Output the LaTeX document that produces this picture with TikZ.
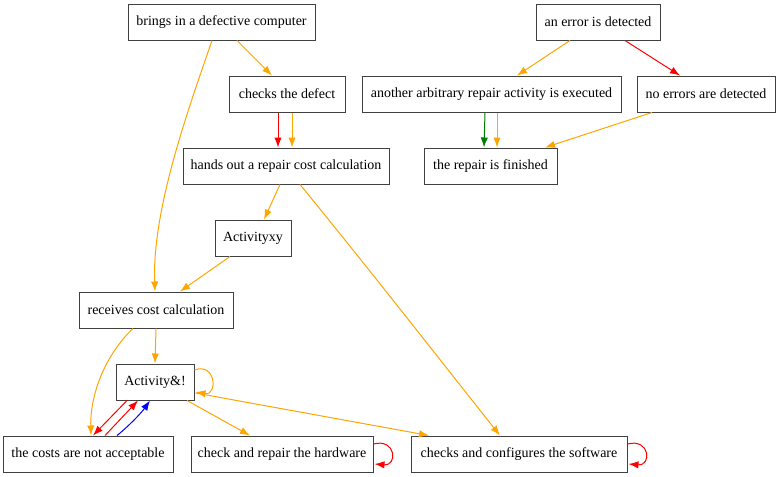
\documentclass[tikz,border=0pt]{standalone}
\usepackage{fontspec}
\setmainfont{Liberation Serif}
\usetikzlibrary{arrows.meta,calc}
\definecolor{gvorange}{HTML}{FFA500}
\definecolor{gvred}{HTML}{FF0000}
\definecolor{gvgreen}{HTML}{008000}
\definecolor{gvblue}{HTML}{0000FF}
\begin{document}
\begin{tikzpicture}[x=0.75pt,y=-0.75pt,
  box/.style={draw=black!75,line width=0.75pt,rectangle,minimum height=27pt,inner sep=0pt,font=\fontsize{10.5pt}{12pt}\selectfont},
  bw/.style={minimum width=#1*0.75pt},
  edge/.style={line width=0.75pt,-{Latex[length=7.5pt,width=5.5pt]}},
  eo/.style={edge,draw=gvorange,-{Latex[length=7.5pt,width=5.5pt,fill=gvorange]}},
  er/.style={edge,draw=gvred,-{Latex[length=7.5pt,width=5.5pt,fill=gvred]}},
  eg/.style={edge,draw=gvgreen,-{Latex[length=7.5pt,width=5.5pt,fill=gvgreen]}},
  eb/.style={edge,draw=gvblue,-{Latex[length=7.5pt,width=5.5pt,fill=gvblue]}}]
\useasboundingbox (0,0) rectangle (779,476);
\node[box,bw=187] (n1) at (221.5,22) {brings in a defective computer};
\node[box,bw=116] (n2) at (287,94) {checks the defect};
\node[box,bw=124] (n3) at (598,22) {an error is detected};
\node[box,bw=259] (n4) at (491.5,94) {another arbitrary repair activity is executed};
\node[box,bw=138] (n5) at (706,94) {no errors are detected};
\node[box,bw=206] (n6) at (286,166) {hands out a repair cost calculation};
\node[box,bw=133] (n7) at (490.5,166) {the repair is finished};
\node[box,bw=76] (n8) at (253,238) {Activityxy};
\node[box,bw=154] (n9) at (156,310) {receives cost calculation};
\node[box,bw=78] (n10) at (155,382) {Activity\&!};
\node[box,bw=170] (n11) at (88,454) {the costs are not acceptable};
\node[box,bw=182] (n12) at (282,454) {check and repair the hardware};
\node[box,bw=216] (n13) at (519,454) {checks and configures the software};
% edges
\draw[eo] ($(n1.south)+(15.5,0)$) -- ($(n2.north)+(-15,0)$);
\draw[eo] ($(n1.south)+(-9.5,0)$) .. controls (188,110) and (152,210) .. ($(n9.north)+(-1,0)$);
\draw[er] ($(n2.south)+(-9,0)$) -- ($(n6.north)+(-8,0)$);
\draw[eo] ($(n2.south)+(5,0)$) -- ($(n6.north)+(6,0)$);
\draw[eo] ($(n6.south)+(-6,0)$) -- ($(n8.north)+(11,0)$);
\draw[eo] ($(n6.south)+(14,0)$) .. controls (370,270) and (440,360) .. ($(n13.north)+(-19,0)$);
\draw[eo] ($(n8.south)+(-23,0)$) -- ($(n9.north)+(24,0)$);
\draw[eo] (n9.south) -- (n10.north);
\draw[eo] ($(n9.south)+(-23,0)$) .. controls (105,355) and (90,395) .. ($(n11.north)+(3,0)$);
\draw[eo] ($(n10.east)+(0,-12)$) .. controls (216,362) and (218,396) .. ($(n10.east)+(1,10)$);
\draw[eo] ($(n10.south)+(32,0)$) -- ($(n12.north)+(-32,0)$);
\draw[eo] ($(n10.east)+(1,11)$) -- ($(n13.north)+(-90,0)$);
\draw[er] ($(n10.south)+(-28,0)$) -- ($(n11.north)+(5,0)$);
\draw[er] ($(n11.north)+(17,0)$) -- ($(n10.south)+(-17,0)$);
\draw[eb] ($(n11.north)+(29,0)$) .. controls (130,425) and (142,412) .. ($(n10.south)+(-5,0)$);
\draw[er] ($(n12.east)+(0,-10)$) .. controls (396,438) and (398,466) .. ($(n12.east)+(1,10)$);
\draw[er] ($(n13.east)+(0,-10)$) .. controls (650,438) and (652,466) .. ($(n13.east)+(1,10)$);
\draw[eo] ($(n3.south)+(-28,0)$) -- ($(n4.north)+(25.5,0)$);
\draw[er] ($(n3.south)+(27,0)$) -- ($(n5.north)+(-26,0)$);
\draw[eg] ($(n4.south)+(-6.5,0)$) -- ($(n7.north)+(-6.5,0)$);
\draw[eo] ($(n4.south)+(5.5,0)$) -- ($(n7.north)+(6.5,0)$);
\draw[eo] ($(n5.south)+(-54,0)$) -- ($(n7.north)+(54.5,0)$);
\end{tikzpicture}
\end{document}
